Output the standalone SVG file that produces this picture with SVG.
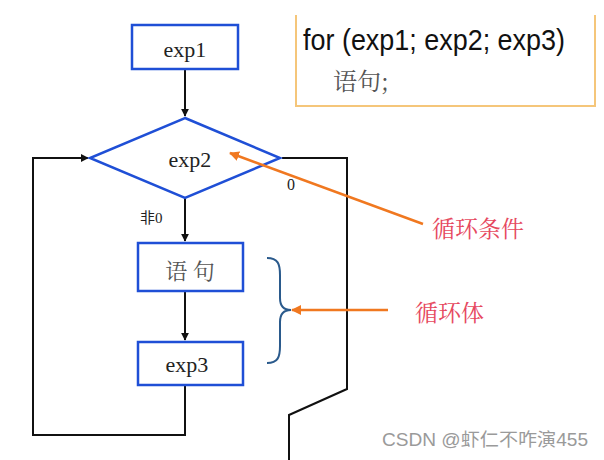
<svg xmlns="http://www.w3.org/2000/svg" width="604" height="460" viewBox="0 0 604 460">
<defs>
<marker id="ab" viewBox="0 0 10 10" refX="9" refY="5" markerWidth="4" markerHeight="4" orient="auto"><path d="M0,0 L10,5 L0,10 z" fill="#111"/></marker>
<marker id="ao" viewBox="0 0 10 10" refX="9" refY="5" markerWidth="4" markerHeight="4" orient="auto"><path d="M0,0 L10,5 L0,10 z" fill="#f07820"/></marker>
</defs>
<style>
.box{fill:#fff;stroke:#1f4fd6;stroke-width:2.5}
.t{font-family:"Liberation Serif","Noto Sans CJK SC",serif;fill:#222;text-anchor:middle}
.cn{font-family:"Noto Serif CJK SC","Liberation Serif","Noto Sans CJK SC",serif;fill:#555}
.red{font-family:"Noto Serif CJK SC","Noto Sans CJK SC",serif;fill:#e6485e;font-size:23px}
.c{fill:none;stroke:#111;stroke-width:2}
.o{fill:none;stroke:#f07820;stroke-width:2.5}
</style>
<rect width="604" height="460" fill="#fff"/>
<g id="code">
<path d="M296,15 V106 H595 V15" fill="none" stroke="#f5c67a" stroke-width="2"/>
<text x="303" y="50" font-family="Liberation Sans,Arial,sans-serif" font-size="29" fill="#111" textLength="262" lengthAdjust="spacingAndGlyphs">for (exp1; exp2; exp3)</text>
<text x="333" y="90" class="cn" font-size="24">语句;</text>
</g>
<g id="connectors">
<line class="c" x1="185" y1="69" x2="185" y2="116" marker-end="url(#ab)"/>
<line class="c" x1="185" y1="198" x2="185" y2="241" marker-end="url(#ab)"/>
<line class="c" x1="185" y1="291" x2="185" y2="340" marker-end="url(#ab)"/>
<polyline class="c" points="185,385 185,435 33,435 33,158 88,158" marker-end="url(#ab)"/>
<polyline class="c" points="282,158 347,158 347,389 289,415 289,460"/>
</g>
<g id="exp1"><rect class="box" x="132" y="25" width="106" height="44"/><text class="t" x="185" y="57" font-size="22">exp1</text></g>
<g id="exp2"><polygon points="185,118 280,158 185,198 90,158" fill="#fff" stroke="#1f4fd6" stroke-width="2.5"/><text class="t" x="190" y="167" font-size="22">exp2</text></g>
<g id="stmt"><rect class="box" x="138" y="243" width="105" height="48"/><text class="cn" x="190" y="279" font-size="22" text-anchor="middle">语 句</text></g>
<g id="exp3"><rect class="box" x="138" y="342" width="105" height="43"/><text class="t" x="187" y="372" font-size="22">exp3</text></g>
<g id="labels">
<text class="t" x="291" y="190" font-size="16">0</text>
<text x="140" y="223" font-family="Liberation Serif,Noto Sans CJK SC,serif" font-size="15" fill="#222">非0</text>
</g>
<g id="brace"><path d="M267,258 C278,258 280,264 280,275 V298 C280,306 284,310 291,310 C284,310 280,314 280,322 V346 C280,357 278,363 267,363" fill="none" stroke="#2a5a8c" stroke-width="2"/></g>
<g id="annotation-arrows">
<line class="o" x1="423" y1="224" x2="230" y2="153" marker-end="url(#ao)"/>
<line class="o" x1="388" y1="310" x2="292" y2="310" marker-end="url(#ao)"/>
</g>
<g id="notes">
<text class="red" x="432" y="237">循环条件</text>
<text class="red" x="415" y="321">循环体</text>
</g>
<text x="382" y="446" font-family="Liberation Sans,Noto Sans CJK SC,sans-serif" font-size="18" fill="#9a9a9a" textLength="206" lengthAdjust="spacingAndGlyphs">CSDN @虾仁不咋演455</text>
</svg>
